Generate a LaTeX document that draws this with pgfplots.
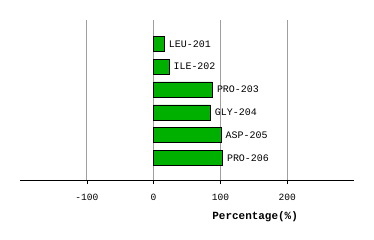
\documentclass[border=0pt]{standalone}
\usepackage{pgfplots}
\pgfplotsset{compat=1.18}
\usepackage{pgfplotstable}
\usetikzlibrary{calc}
\usepackage{fontspec}
\setmainfont{Liberation Mono}
\definecolor{bargreen}{RGB}{0,176,0}
\pgfplotstableread[col sep=comma]{
y,val,lab
6,16,LEU-201
5,23,ILE-202
4,88,PRO-203
3,85,GLY-204
2,101,ASP-205
1,103,PRO-206
}\datatab
\begin{document}
\begin{tikzpicture}
\begin{axis}[
  scale only axis,
  width=334bp, height=160bp,
  xmin=-200, xmax=300, ymin=0.04, ymax=7.04,
  axis x line=bottom, axis y line=none,
  axis line style={-, black, line width=0.8pt},
  xtick={-100,0,100,200},
  tick align=outside,
  major tick length=4bp,
  tick style={black, line width=0.6pt},
  xmajorgrids,
  grid style={gray!75, line width=0.8pt},
  /pgf/number format/assume math mode=true,
  ticklabel style={font=\fontsize{9.6}{10}\selectfont},
  xticklabel style={yshift=-7bp},
  xlabel={\textbf{Percentage(\%)}},
  xlabel style={font=\fontsize{11}{12}\selectfont, at={(axis cs:152,0.04)}, anchor=north, yshift=-28bp},
  clip=false,
]
\addplot[xbar, bar width=15bp, fill=bargreen, draw=black, line width=0.6pt,
  nodes near coords, point meta=explicit symbolic,
  every node near coord/.style={anchor=west, xshift=1bp, font=\fontsize{10}{11}\selectfont, black}]
  table[x=val, y=y, meta=lab] {\datatab};
\coordinate (sw) at (rel axis cs:0,0);
\end{axis}
\pgfresetboundingbox
\path[use as bounding box] ($(sw)+(-20bp,-60bp)$) rectangle ++(374bp,240bp);
\end{tikzpicture}
\end{document}
